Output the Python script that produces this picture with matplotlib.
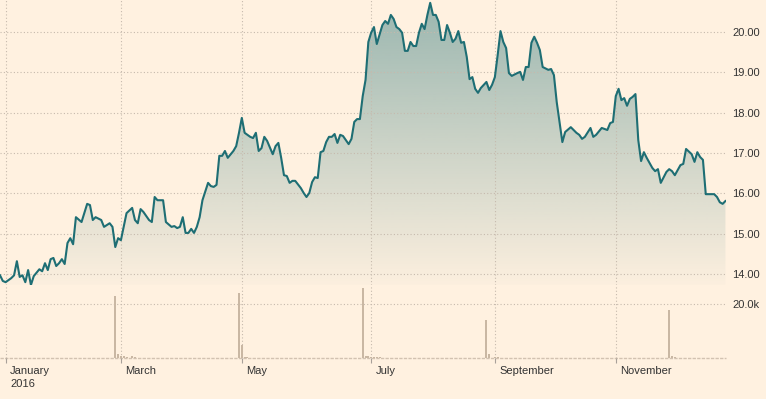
import matplotlib
matplotlib.use('Agg')
import matplotlib.pyplot as plt
import numpy as np
from matplotlib.path import Path
from matplotlib.patches import PathPatch
from matplotlib.transforms import ScaledTranslation

plt.rcParams['font.family'] = ['Liberation Sans', 'DejaVu Sans']

# trading session number (0 = first session of 2016) and closing price
session = [0, 1, 2, 4, 5, 6, 7, 8, 9, 10, 11, 12, 14, 15, 16, 17, 18, 19, 20, 21,
           22, 23, 24, 25, 26, 27, 29, 31, 32, 33, 34, 36, 37, 39, 40, 41, 42, 43,
           44, 45, 47, 48, 49, 50, 51, 53, 54, 55, 56, 58, 59, 61, 62, 63, 64, 65,
           66, 67, 68, 69, 70, 71, 72, 74, 75, 76, 77, 78, 79, 80, 81, 83, 84, 85, 86,
           87, 89, 90, 91, 92, 93, 94, 95, 97, 98, 99, 100, 101, 102, 103, 104, 105,
           107, 108, 109, 110, 111, 112, 113, 114, 115, 116, 117, 118, 119, 120, 121,
           122, 124, 125, 126, 127, 128,
           129, 130, 131, 132, 133, 134, 136, 137, 138, 139, 140, 141, 142, 143, 144,
           145, 146, 147, 148, 149, 150, 151, 152, 153, 154, 155, 156, 157, 158, 159,
           160, 161, 162, 163, 164, 165, 166, 167, 168, 169, 170,
           171, 173, 174, 175, 176, 177, 178, 179, 180, 181, 182, 184, 185, 186, 187,
           188, 189, 190, 191, 192, 193, 195, 196, 197, 198, 199, 200, 201, 203, 205,
           206, 207, 208, 210, 211, 212, 214,
           216, 217, 218, 219, 220, 221, 222, 223, 224, 225, 226, 227, 228, 229, 230,
           232, 233, 234, 235, 237, 238, 239, 240, 242, 243, 244, 246, 247, 248, 249,
           250, 251, 253, 254, 255, 256, 257, 258]
price = [13.97, 13.83, 13.80, 13.90, 13.97, 14.32, 13.93, 13.97, 13.80, 14.10, 13.73,
         13.95, 14.12, 14.07, 14.27, 14.10, 14.37, 14.40, 14.20, 14.27, 14.37, 14.25,
         14.77, 14.89, 14.74, 15.41, 15.29, 15.74, 15.71, 15.34, 15.41, 15.34, 15.17,
         15.26, 15.17, 14.67, 14.89, 14.84,
         15.17, 15.51, 15.64, 15.34, 15.26, 15.61, 15.54, 15.34, 15.29, 15.91, 15.83,
         15.83, 15.29, 15.17, 15.19, 15.14, 15.17, 15.41, 15.02, 15.02, 15.12, 15.02,
         15.17, 15.41, 15.83, 16.26, 16.18, 16.16, 16.21, 16.93, 16.93, 17.05, 16.88,
         17.05, 17.17, 17.50, 17.87,
         17.50, 17.40, 17.37, 17.50, 17.05, 17.12, 17.40, 17.30, 16.97, 17.17, 17.25,
         16.88, 16.45, 16.43, 16.26, 16.31, 16.31, 16.13, 16.01, 15.91, 16.01, 16.28,
         16.40, 16.38, 17.02, 17.05, 17.27, 17.40, 17.40, 17.47, 17.25, 17.45, 17.42,
         17.22, 17.35, 17.77, 17.84, 17.84,
         18.41, 18.81, 19.75, 19.98, 20.12, 19.70, 20.17, 20.27, 20.20, 20.42, 20.32,
         20.12, 20.07, 19.98, 19.53, 19.53, 19.75, 19.65, 19.65, 19.98, 20.20, 20.07,
         20.42, 20.72, 20.42, 20.42, 20.25, 19.80, 19.80, 20.17, 19.98, 19.75, 19.83,
         20.02, 19.73, 19.75, 19.38, 18.83, 18.88, 18.59, 18.49,
         18.61, 18.76, 18.56, 18.69, 18.88, 19.43, 20.02, 19.75, 19.60, 18.98, 18.91,
         18.98, 19.01, 18.81, 19.13, 19.13, 19.73, 19.88, 19.73, 19.55, 19.13, 19.06,
         19.08, 18.93, 18.26, 17.77, 17.27, 17.52, 17.64, 17.50, 17.45, 17.35, 17.40,
         17.62, 17.40, 17.45, 17.62,
         17.57, 17.74, 17.77, 18.41, 18.59, 18.31, 18.36, 18.17, 18.34, 18.39, 18.46,
         17.32, 16.80, 17.02, 16.88, 16.63, 16.55, 16.60, 16.26, 16.53, 16.60, 16.55,
         16.45, 16.70, 16.73, 17.10, 16.97, 16.78, 17.02, 16.90, 16.83, 15.98, 15.98,
         15.98, 15.91, 15.78, 15.74, 15.81]

# volume (thousands) on the sessions where a bar is visible
vol_session = [41, 42, 43, 44, 45, 47, 48, 85, 86, 87, 88, 129, 130, 131, 132, 133,
               134, 135, 173, 174, 176, 177, 238, 239, 240]
vol_k = [23.0, 1.4, 0.7, 0.6, 0.5, 0.6, 0.5, 24.2, 4.8, 0.5, 0.4, 25.8, 0.8, 0.6,
         0.5, 0.5, 0.4, 0.4, 14.1, 1.4, 0.5, 0.4, 17.8, 0.9, 0.4]

month_sessions = [2, 43, 86, 132, 176, 219]
month_labels = ['January\n2016', 'March', 'May', 'July', 'September', 'November']
price_ticks = [14, 15, 16, 17, 18, 19, 20]
vol_ticks = [20]

BG = '#fff1e0'
TEAL = '#1e6e74'
GRID = '#c6baad'
TXT = '#333333'

W, H = 766, 399
fig = plt.figure(figsize=(W / 100, H / 100), dpi=100, facecolor=BG)
ax = fig.add_axes([0, 1 - 285 / H, 726 / W, 285 / H], facecolor=BG)
axv = fig.add_axes([0, 1 - 358 / H, 726 / W, 73 / H], facecolor='none', sharex=ax)

x0, x1 = 0, 258.2
y0, y1 = 13.73, 20.79

# gradient area under the price line
grad = np.zeros((256, 1, 4))
grad[..., :3] = matplotlib.colors.to_rgb(TEAL)
grad[:, 0, 3] = np.linspace(0.45, 0.015, 256)
img = ax.imshow(grad, extent=[x0, x1, y0, y1], aspect='auto', origin='upper',
                interpolation='bilinear', zorder=1)
verts = list(zip(session, price)) + [(session[-1], y0), (session[0], y0)]
clip = PathPatch(Path(verts), transform=ax.transData, fc='none', ec='none')
ax.add_patch(clip)
img.set_clip_path(clip)

ax.plot(session, price, color=TEAL, lw=1.5, zorder=3, solid_joinstyle='round')

ax.set_xlim(x0, x1)
ax.set_ylim(y0, y1)

# volume
axv.bar(vol_session, vol_k, width=0.7, color='#c9b7a3', zorder=2)
axv.axhline(0, color='#d2c2b1', lw=1.0, dashes=(2.4, 0.9), clip_on=False, zorder=1)
axv.set_ylim(0, 27.04)

for a in (ax, axv):
    for s in a.spines.values():
        s.set_visible(False)
    a.set_xticks(month_sessions)
    a.grid(True, color=GRID, lw=0.8, linestyle=(0, (1, 2)))
    a.yaxis.tick_right()
    a.tick_params(axis='y', length=0, pad=4.3, labelsize=8, labelcolor=TXT)

ax.set_yticks(price_ticks)
ax.set_yticklabels(['%.2f' % v for v in price_ticks])
ax.tick_params(axis='x', length=0, labelbottom=False)

axv.set_yticks(vol_ticks)
axv.set_yticklabels(['%.1fk' % v for v in vol_ticks])
axv.set_xticklabels(month_labels)
axv.tick_params(axis='x', length=3.6, width=0.8, color='#a8a099', pad=2,
                labelsize=8, labelcolor=TXT)
shift = ScaledTranslation(4.5 / 100, 0, fig.dpi_scale_trans)
for lbl in axv.get_xticklabels():
    lbl.set_horizontalalignment('left')
    lbl.set_linespacing(1.45)
    lbl.set_transform(lbl.get_transform() + shift)

fig.savefig('out.png', dpi=100, facecolor=BG)
